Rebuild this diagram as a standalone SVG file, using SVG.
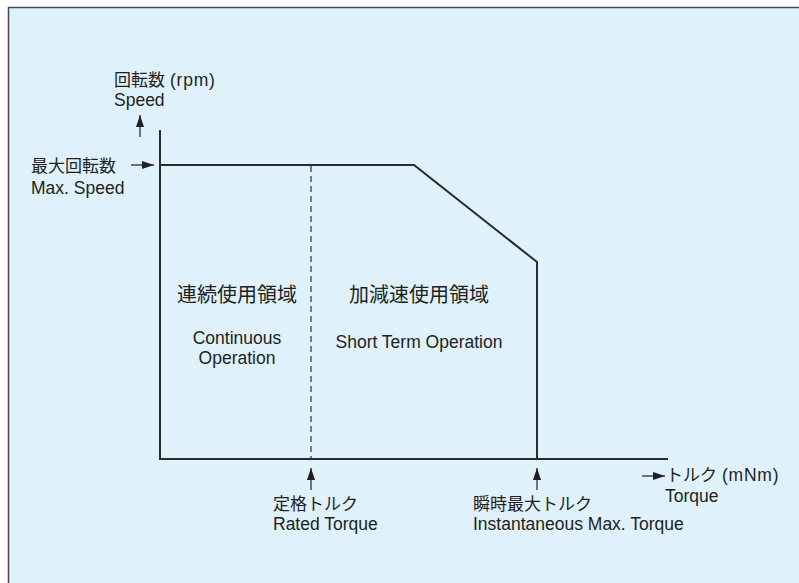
<svg xmlns="http://www.w3.org/2000/svg" width="799" height="583" viewBox="0 0 799 583">
<defs>
<style>
.t{font-family:"Liberation Sans","Noto Sans CJK JP",sans-serif;fill:#231f20;font-size:17.5px}
.j{font-family:"Noto Sans CJK JP","Liberation Sans",sans-serif;fill:#231f20;font-size:17px}
.big{font-size:20px}
.u{letter-spacing:0.8px}
.ax{stroke:#2b2b2b;stroke-width:2;fill:none}
.ar{stroke:#231f20;stroke-width:1.2;fill:none}
</style>
<marker id="ah" viewBox="0 0 12 8" refX="12" refY="4" markerWidth="12" markerHeight="8" markerUnits="userSpaceOnUse" orient="auto">
<path d="M0,0 L12,4 L0,8 z" fill="#231f20"/>
</marker>
</defs>
<rect x="0" y="0" width="799" height="583" fill="#ffffff"/>
<rect id="frame" x="8.5" y="7.5" width="800" height="600" fill="#dff1fb" stroke="#4a4a4a" stroke-width="1.5"/>

<g id="connectors">
<path id="y-axis" class="ax" d="M160,130 L160,460"/>
<path id="x-axis" class="ax" d="M159,459 L668,459"/>
<path id="curve" class="ax" d="M160,165 L414,165 L537,262 L537,459"/>
<path id="rated-line" d="M311,166 L311,458" stroke="#555" stroke-width="1.5" stroke-dasharray="6,4" fill="none"/>
<path class="ar" d="M140,137 L140,115" marker-end="url(#ah)"/>
<path class="ar" d="M131,165 L154,165" marker-end="url(#ah)"/>
<path class="ar" d="M311,490 L311,468" marker-end="url(#ah)"/>
<path class="ar" d="M537,490 L537,468" marker-end="url(#ah)"/>
<path class="ar" d="M642,476 L665,476" marker-end="url(#ah)"/>
</g>

<g id="speed-label">
<text class="t" x="114" y="86"><tspan class="j">回転数</tspan> <tspan class="u">(rpm)</tspan></text>
<text class="t" x="114" y="106">Speed</text>
</g>
<g id="max-speed-label">
<text class="j" x="31" y="172">最大回転数</text>
<text class="t" x="31" y="194">Max. Speed</text>
</g>
<g id="continuous">
<text class="j big" x="237" y="302" text-anchor="middle">連続使用領域</text>
<text class="t" x="237" y="344" text-anchor="middle">Continuous</text>
<text class="t" x="237" y="364" text-anchor="middle">Operation</text>
</g>
<g id="short-term">
<text class="j big" x="419" y="302" text-anchor="middle">加減速使用領域</text>
<text class="t" x="419" y="348" text-anchor="middle">Short Term Operation</text>
</g>
<g id="rated-torque">
<text class="j" x="273" y="510">定格トルク</text>
<text class="t" x="273" y="530">Rated Torque</text>
</g>
<g id="max-torque">
<text class="j" x="473" y="510">瞬時最大トルク</text>
<text class="t" x="473" y="530">Instantaneous Max. Torque</text>
</g>
<g id="torque-label">
<text class="t" x="666" y="481"><tspan class="j">トルク</tspan> <tspan class="u">(mNm)</tspan></text>
<text class="t" x="665" y="502">Torque</text>
</g>
</svg>
